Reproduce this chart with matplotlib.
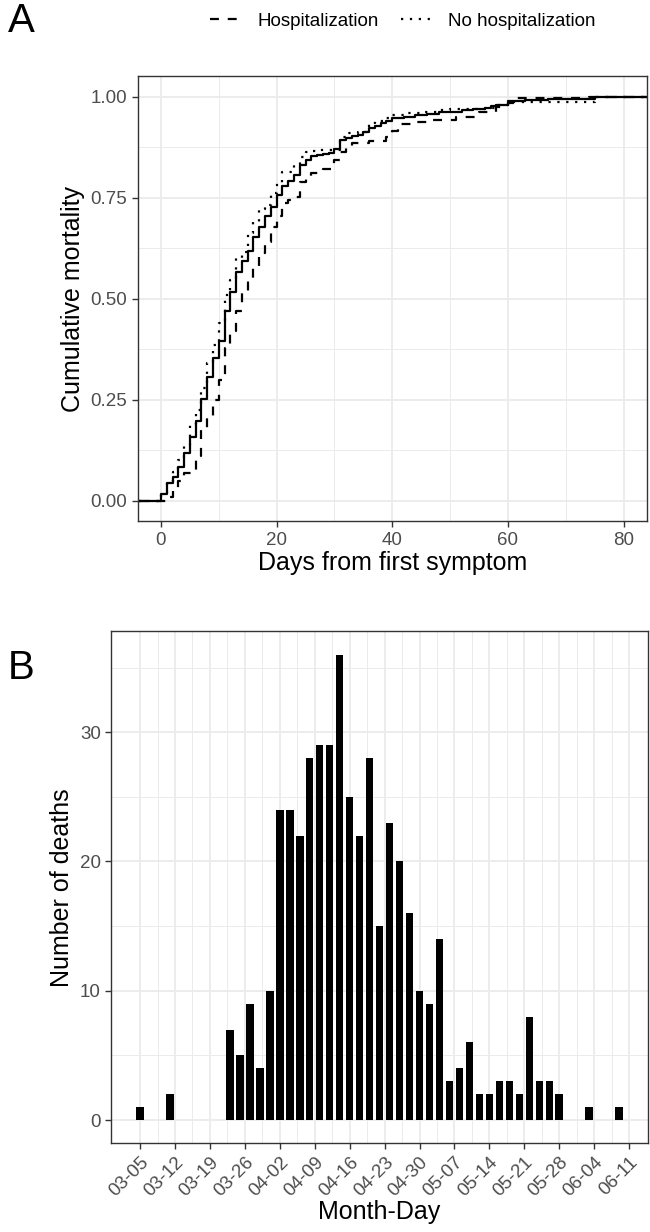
import numpy as np
import pandas as pd
import matplotlib
matplotlib.use("Agg")
import matplotlib.pyplot as plt
import matplotlib.dates as mdates

plt.rcParams['font.family'] = ['Liberation Sans', 'DejaVu Sans']

# ---- panel A: cumulative mortality (step curves, day -> value) ----
all_days = [-10, 0, 1, 2, 3, 4, 5, 6, 7, 8, 9, 10, 11, 12, 13, 14, 15, 16, 17, 18, 19,
            20, 21, 22, 23, 24, 25, 26, 27, 28, 29, 30, 31, 32, 33, 34, 35, 36, 37, 38,
            39, 40, 42, 44, 46, 48, 50, 52, 54, 56, 57, 58, 60, 63, 67, 72, 75, 90]
all_cum = [0, 0.016, 0.045, 0.059, 0.084, 0.119, 0.158, 0.198, 0.253, 0.307, 0.354,
           0.396, 0.469, 0.516, 0.565, 0.594, 0.619, 0.652, 0.677, 0.705, 0.728, 0.757,
           0.778, 0.792, 0.806, 0.831, 0.842, 0.853, 0.855, 0.857, 0.861, 0.870, 0.893,
           0.898, 0.902, 0.906, 0.913, 0.922, 0.928, 0.934, 0.940, 0.946, 0.950, 0.955,
           0.958, 0.961, 0.963, 0.966, 0.969, 0.972, 0.976, 0.980, 0.990, 0.991, 0.993,
           0.995, 1.0, 1.0]

hosp_days = [-10, 1, 2, 3, 4, 6, 7, 8, 9, 10, 11, 12, 13, 14, 15, 16, 17, 18, 19, 20,
             21, 22, 23, 24, 25, 26, 28, 30, 31, 32, 33, 36, 39, 40, 41, 44, 47, 51, 55,
             58, 60, 61, 74, 90]
hosp_cum = [0, 0.010, 0.030, 0.050, 0.070, 0.110, 0.175, 0.204, 0.250, 0.300, 0.377,
            0.420, 0.470, 0.520, 0.550, 0.575, 0.612, 0.641, 0.678, 0.705, 0.736, 0.745,
            0.752, 0.790, 0.800, 0.812, 0.821, 0.842, 0.862, 0.875, 0.885, 0.889, 0.899,
            0.915, 0.932, 0.936, 0.942, 0.950, 0.963, 0.974, 0.985, 0.996, 1.0, 1.0]

nohosp_days = [-10, 0, 1, 2, 3, 4, 5, 6, 7, 8, 9, 10, 11, 12, 13, 14, 15, 16, 17, 18,
               19, 20, 21, 23, 24, 25, 26, 27, 31, 32, 34, 36, 37, 39, 40, 42, 45, 48,
               50, 56, 58, 60, 75, 90]
nohosp_cum = [0, 0.020, 0.050, 0.072, 0.100, 0.138, 0.190, 0.224, 0.280, 0.340, 0.385,
              0.440, 0.510, 0.546, 0.600, 0.616, 0.662, 0.690, 0.721, 0.732, 0.762, 0.786,
              0.814, 0.831, 0.851, 0.864, 0.866, 0.868, 0.901, 0.910, 0.912, 0.934, 0.940,
              0.946, 0.955, 0.959, 0.963, 0.967, 0.969, 0.971, 0.980, 0.987, 1.0, 1.0]

# ---- panel B: deaths per 2-day bin ----
bin_dates = ['03-05', '03-11', '03-23', '03-25', '03-27', '03-29', '03-31', '04-02',
             '04-04', '04-06', '04-08', '04-10', '04-12', '04-14', '04-16', '04-18',
             '04-20', '04-22', '04-24', '04-26', '04-28', '04-30', '05-02', '05-04',
             '05-06', '05-08', '05-10', '05-12', '05-14', '05-16', '05-18', '05-20',
             '05-22', '05-24', '05-26', '05-28', '06-03', '06-09']
deaths = [1, 2, 7, 5, 9, 4, 10, 24, 24, 22, 28, 29, 29, 36, 25, 22, 28, 15, 23, 20,
          16, 10, 9, 14, 3, 4, 6, 2, 2, 3, 3, 2, 8, 3, 3, 2, 1, 1]

fig = plt.figure(figsize=(6.5, 12.32), dpi=100)

grid_c = '#EBEBEB'
border_c = '#333333'
tick_c = '#4D4D4D'


def style(ax):
    for s in ax.spines.values():
        s.set_color(border_c)
        s.set_linewidth(1.0)
    ax.tick_params(colors=border_c, labelcolor=tick_c, labelsize=13.5, length=4, width=1)
    ax.tick_params(which='minor', length=0)
    ax.grid(True, which='major', color=grid_c, lw=1.3)
    ax.grid(True, which='minor', color=grid_c, lw=0.7)
    ax.set_axisbelow(True)


# Panel A
ax1 = fig.add_axes([0.212, 0.577, 0.783, 0.361])
ax1.step(all_days, all_cum, where='post', color='black', lw=1.6)
ax1.step(hosp_days, hosp_cum, where='post', color='black', lw=1.6,
         linestyle=(0, (4, 4)), label='Hospitalization')
ax1.step(nohosp_days, nohosp_cum, where='post', color='black', lw=1.6,
         linestyle=(0, (1, 3)), label='No hospitalization')
ax1.set_xlim(-4, 84)
ax1.set_ylim(-0.05, 1.05)
ax1.set_xticks([0, 20, 40, 60, 80])
ax1.set_xticks([10, 30, 50, 70], minor=True)
ax1.set_yticks([0, 0.25, 0.5, 0.75, 1.0])
ax1.set_yticks([0.125, 0.375, 0.625, 0.875], minor=True)
ax1.set_yticklabels(['0.00', '0.25', '0.50', '0.75', '1.00'])
style(ax1)
ax1.set_xlabel('Days from first symptom', fontsize=18, labelpad=2)
ax1.set_ylabel('Cumulative mortality', fontsize=18, labelpad=4)
fig.legend(*ax1.get_legend_handles_labels(), loc='center', ncol=2,
           bbox_to_anchor=(0.62, 0.983), frameon=False, fontsize=13.5,
           handlelength=1.6, columnspacing=1.2, handletextpad=0.9)
fig.text(0.012, 0.998, 'A', fontsize=29, va='top', ha='left')

# Panel B
ax2 = fig.add_axes([0.171, 0.072, 0.826, 0.4155])
dates = pd.to_datetime(['2020-' + d for d in bin_dates])
ax2.bar(dates, deaths, width=1.5, color='black')
start = pd.Timestamp('2020-03-05')
ax2.set_xlim(start - pd.Timedelta(days=5.8), start + pd.Timedelta(days=101.8))
ax2.set_ylim(-1.8, 37.8)
ticks = pd.date_range('2020-03-05', '2020-06-11', freq='7D')
ax2.set_xticks(ticks)
ax2.set_xticks(ticks[:-1] + pd.Timedelta(hours=84), minor=True)
ax2.xaxis.set_major_formatter(mdates.DateFormatter('%m-%d'))
ax2.set_yticks([0, 10, 20, 30])
ax2.set_yticks([5, 15, 25, 35], minor=True)
style(ax2)
plt.setp(ax2.get_xticklabels(), rotation=45, ha='right', rotation_mode='anchor')
ax2.set_xlabel('Month-Day', fontsize=18, labelpad=0)
ax2.set_ylabel('Number of deaths', fontsize=18, labelpad=4)
fig.text(0.012, 0.473, 'B', fontsize=29, va='top', ha='left')

fig.savefig('out.png', dpi=100)
